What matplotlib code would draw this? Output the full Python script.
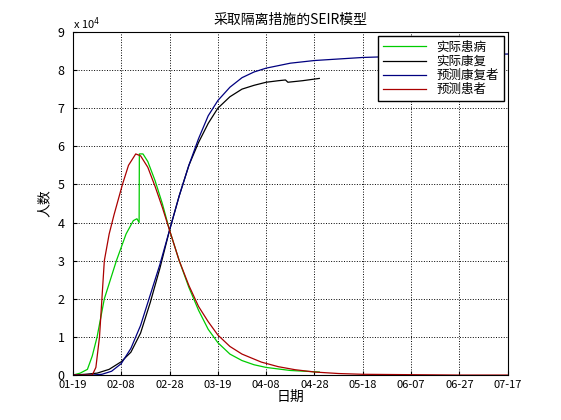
import numpy as np
import matplotlib.pyplot as plt

plt.rcParams['font.family'] = ['Noto Sans CJK SC', 'DejaVu Sans']

# days since 01-19
tick_days = [0, 20, 40, 60, 80, 100, 120, 140, 160, 180]
tick_labels = ['01-19', '02-08', '02-28', '03-19', '04-08', '04-28', '05-18', '06-07', '06-27', '07-17']

# actual infected (x1e4)
act_sick_t = [0, 3, 6, 8, 10, 13, 16, 18, 22, 25, 26.5, 27.4, 27.5, 29, 31, 34, 37, 40, 44, 48, 52, 56, 60, 65, 70, 75, 80, 90, 102]
act_sick_v = [0, 0.05, 0.15, 0.5, 1.0, 2.0, 2.6, 3.0, 3.7, 4.05, 4.1, 4.0, 5.8, 5.8, 5.6, 5.1, 4.5, 3.8, 3.0, 2.3, 1.7, 1.2, 0.85, 0.55, 0.38, 0.27, 0.2, 0.12, 0.08]
# actual recovered
act_rec_t = [0, 5, 10, 15, 20, 24, 28, 32, 36, 40, 44, 48, 52, 56, 60, 65, 70, 75, 80, 85, 88, 89, 95, 102]
act_rec_v = [0, 0.02, 0.05, 0.15, 0.35, 0.6, 1.1, 1.9, 2.8, 3.8, 4.7, 5.5, 6.1, 6.6, 7.0, 7.3, 7.5, 7.6, 7.68, 7.72, 7.74, 7.68, 7.72, 7.78]
# predicted recovered
pre_rec_t = [0, 8, 12, 16, 20, 24, 28, 32, 36, 40, 44, 48, 52, 56, 60, 65, 70, 75, 80, 90, 100, 120, 140, 160, 180]
pre_rec_v = [0, 0, 0.02, 0.1, 0.3, 0.7, 1.3, 2.1, 2.9, 3.8, 4.7, 5.5, 6.2, 6.8, 7.2, 7.55, 7.8, 7.95, 8.05, 8.18, 8.25, 8.33, 8.37, 8.4, 8.42]
# predicted infected
pre_sick_t = [0, 8, 9.5, 11, 13, 15, 17, 20.5, 23, 26, 28, 31, 34, 37, 40, 44, 48, 52, 56, 60, 65, 70, 78, 85, 92, 100, 110, 120, 140, 160, 180]
pre_sick_v = [0, 0, 0.2, 1.0, 3.0, 3.7, 4.2, 5.0, 5.5, 5.8, 5.75, 5.45, 4.95, 4.4, 3.8, 3.0, 2.35, 1.8, 1.4, 1.05, 0.75, 0.55, 0.34, 0.22, 0.14, 0.08, 0.04, 0.02, 0.01, 0.0, 0.0]

fig = plt.figure(figsize=(5.61, 4.2), dpi=100)
ax = fig.add_axes([0.130, 0.107, 0.775, 0.817])
scale = 1e4
ax.plot(act_sick_t, np.array(act_sick_v) * scale, color='#00cc00', lw=0.9, label='实际患病')
ax.plot(act_rec_t, np.array(act_rec_v) * scale, color='black', lw=0.9, label='实际康复')
ax.plot(pre_rec_t, np.array(pre_rec_v) * scale, color='#000080', lw=0.9, label='预测康复者')
ax.plot(pre_sick_t, np.array(pre_sick_v) * scale, color='#aa0000', lw=0.9, label='预测患者')

ax.set_xlim(0, 180)
ax.set_ylim(0, 9e4)
ax.set_xticks(tick_days)
ax.set_xticklabels(tick_labels, fontsize=8)
ax.set_yticks(np.arange(0, 10) * 1e4)
ax.set_yticklabels([str(i) for i in range(10)], fontsize=9)
ax.tick_params(axis='y', pad=6)
ax.text(0, 1.01, 'x 10$^4$', transform=ax.transAxes, fontsize=8)
ax.grid(True, linestyle=':', color='black', lw=0.7)
ax.tick_params(direction='in', length=3)
ax.set_xlabel('日期', fontsize=10, labelpad=0)
ax.set_ylabel('人数', fontsize=10)
ax.set_title('采取隔离措施的SEIR模型', fontsize=10)
leg = ax.legend(loc='upper right', fontsize=9, fancybox=False, framealpha=1,
                edgecolor='black', borderaxespad=0.3, handlelength=3.5, labelspacing=0.1)
fig.savefig('out.png')
